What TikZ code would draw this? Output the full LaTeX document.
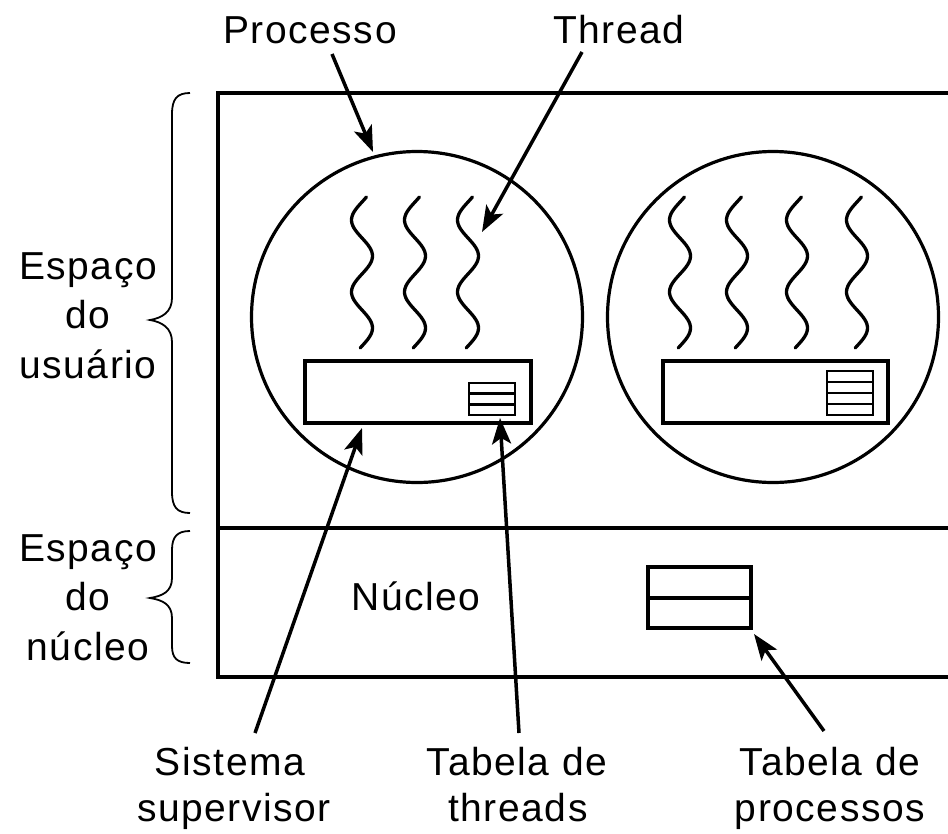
\documentclass[tikz,border=0pt]{standalone}
\usepackage{fontspec}
\setmainfont{Liberation Sans}[LetterSpace=4]
\usetikzlibrary{arrows.meta}
\newcommand\wavethread[2]{\draw[thick line] plot[domain=197:348, samples=70, smooth] ({#1 - 10.5*cos(5*(\x-220))}, \x);}
\begin{document}
\begin{tikzpicture}[x=1pt,y=-1pt,
  thick line/.style={line width=3.3pt, line cap=round},
  box/.style={draw, line width=3.3pt, rectangle, inner sep=0pt},
  proc/.style={draw, line width=3.2pt, circle, inner sep=0pt, minimum size=331pt},
  tbl/.style={line width=2.6pt},
  bracepath/.style={line width=1.8pt},
  lbl/.style={font=\fontsize{39}{46}\selectfont, inner sep=0pt, anchor=base},
  ptr/.style={line width=3.5pt, -{Stealth[length=26pt,width=19pt,inset=6pt]}}
]
\useasboundingbox (0,0) rectangle (948,833);

% outer frame (open on the right)
\draw[line width=3.5pt] (960,93) -- (218,93) -- (218,677) -- (960,677);
\draw[line width=3.5pt] (218,528) -- (960,528);

% processes
\node[proc] (p1) at (417,317) {};
\node[proc] (p2) at (773,317) {};

% threads
\wavethread{362}{}
\wavethread{415}{}
\wavethread{468}{}
\wavethread{680}{}
\wavethread{737}{}
\wavethread{797}{}
\wavethread{857}{}

% supervisor boxes
\node[box, minimum width=226pt, minimum height=62pt] (sv1) at (418,392) {};
\node[box, minimum width=225pt, minimum height=62pt] (sv2) at (775.5,392) {};

% thread tables
\node[draw, tbl, minimum width=46pt, minimum height=32pt, inner sep=0pt] (tt1) at (492,399) {};
\draw[tbl] (469,393.7) -- (515,393.7) (469,404.3) -- (515,404.3);
\node[draw, tbl, minimum width=46pt, minimum height=44pt, inner sep=0pt] (tt2) at (850,393) {};
\draw[tbl] (827,382) -- (873,382) (827,393) -- (873,393) (827,404) -- (873,404);

% process table
\node[box, minimum width=103pt, minimum height=61pt] (pt) at (699.5,597.5) {};
\draw[line width=3.3pt] (648,598) -- (751,598);

% braces
\draw[bracepath] (190,93) .. controls (177,93) and (172,99) .. (172,114) -- (172,298)
  .. controls (172,312) and (162,318) .. (150,320)
  .. controls (162,322) and (172,328) .. (172,342) -- (172,492)
  .. controls (172,507) and (177,513) .. (190,513);
\draw[bracepath] (190,531) .. controls (177,531) and (172,537) .. (172,550) -- (172,578)
  .. controls (172,592) and (162,596) .. (150,598)
  .. controls (162,600) and (172,604) .. (172,618) -- (172,646)
  .. controls (172,658) and (177,663) .. (190,663);

% labels
\node[lbl] (lproc) at (310,43) {Processo};
\node[lbl] (lthr) at (619,43) {Thread};
\node[lbl] (us1) at (88,279) {Espaço};
\node[lbl] (us2) at (88,328) {do};
\node[lbl] (us3) at (88,378) {usuário};
\node[lbl] (ks1) at (88,561) {Espaço};
\node[lbl] (ks2) at (88,610) {do};
\node[lbl] (ks3) at (88,660) {núcleo};
\node[lbl] (lnuc) at (416,610) {Núcleo};
\node[lbl] (lsis1) at (230,775) {Sistema};
\node[lbl] (lsis2) at (234,821) {supervisor};
\node[lbl] (ltt1) at (517,775) {Tabela de};
\node[lbl] (ltt2) at (518,821) {threads};
\node[lbl] (lpt1) at (830,775) {Tabela de};
\node[lbl] (lpt2) at (830,821) {processos};

% arrow end points
\coordinate (aProcS) at (332,54);
\coordinate (aProcE) at (373,152);
\coordinate (aThrS) at (582,52);
\coordinate (aThrE) at (482,232);
\coordinate (aSisS) at (255,733);
\coordinate (aSisE) at (362,428);
\coordinate (aTTS) at (519,733);
\coordinate (aTTE) at (500,418);
\coordinate (aPTS) at (824,731);
\coordinate (aPTE) at (754,634);

\draw[ptr] (aProcS) -- (aProcE);
\draw[ptr] (aThrS) -- (aThrE);
\draw[ptr] (aSisS) -- (aSisE);
\draw[ptr] (aTTS) -- (aTTE);
\draw[ptr] (aPTS) -- (aPTE);
\end{tikzpicture}
\end{document}
